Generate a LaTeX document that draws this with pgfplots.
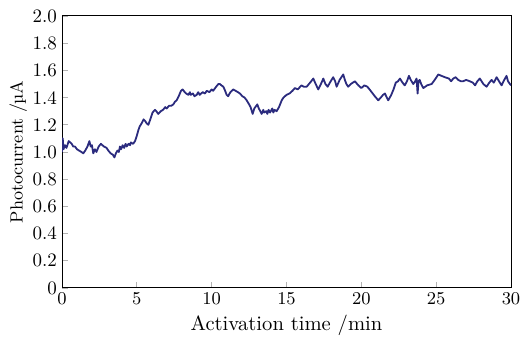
\documentclass[border=0pt]{standalone}
\usepackage{pgfplots}
\pgfplotsset{compat=1.18}
\definecolor{curve}{HTML}{2B2B7E}
\pgfplotstableread{
x y
0.00 1.00
0.05 1.10
0.10 1.02
0.20 1.05
0.30 1.03
0.45 1.08
0.55 1.07
0.65 1.06
0.75 1.04
0.87 1.04
1.00 1.02
1.15 1.01
1.30 1.00
1.42 0.99
1.55 1.01
1.70 1.04
1.83 1.08
1.92 1.04
2.00 1.05
2.09 0.99
2.20 1.02
2.30 1.00
2.45 1.04
2.60 1.06
2.70 1.05
2.80 1.04
2.98 1.03
3.10 1.01
3.25 0.99
3.40 0.98
3.50 0.96
3.60 0.99
3.70 1.01
3.80 1.00
3.87 1.04
3.95 1.02
4.05 1.05
4.15 1.03
4.25 1.06
4.32 1.04
4.45 1.06
4.55 1.05
4.60 1.07
4.75 1.06
4.88 1.08
5.00 1.12
5.10 1.16
5.20 1.19
5.32 1.21
5.45 1.24
5.54 1.23
5.66 1.21
5.77 1.20
5.90 1.24
6.05 1.29
6.21 1.31
6.30 1.30
6.43 1.28
6.60 1.30
6.75 1.31
6.90 1.33
7.00 1.32
7.15 1.34
7.30 1.34
7.44 1.35
7.55 1.37
7.66 1.38
7.80 1.41
7.95 1.45
8.06 1.46
8.20 1.44
8.30 1.43
8.44 1.42
8.55 1.44
8.60 1.42
8.75 1.43
8.85 1.41
9.00 1.42
9.10 1.44
9.20 1.42
9.40 1.44
9.55 1.43
9.67 1.45
9.85 1.44
10.00 1.46
10.10 1.45
10.30 1.48
10.45 1.50
10.55 1.50
10.65 1.49
10.78 1.48
10.90 1.45
11.00 1.42
11.10 1.41
11.25 1.44
11.44 1.46
11.60 1.45
11.75 1.44
11.89 1.43
12.05 1.41
12.20 1.40
12.34 1.38
12.50 1.35
12.60 1.33
12.74 1.28
12.85 1.32
13.05 1.35
13.15 1.32
13.25 1.30
13.34 1.28
13.45 1.31
13.50 1.29
13.65 1.30
13.72 1.28
13.80 1.31
13.90 1.29
14.05 1.32
14.12 1.29
14.20 1.31
14.34 1.30
14.50 1.33
14.68 1.38
14.80 1.40
15.00 1.42
15.20 1.43
15.40 1.45
15.56 1.47
15.75 1.46
16.00 1.49
16.15 1.48
16.35 1.48
16.50 1.50
16.65 1.52
16.79 1.54
16.95 1.50
17.12 1.46
17.30 1.50
17.46 1.54
17.60 1.50
17.75 1.48
17.90 1.51
18.12 1.55
18.25 1.52
18.35 1.48
18.55 1.53
18.79 1.57
18.90 1.53
19.00 1.50
19.12 1.48
19.30 1.50
19.57 1.52
19.80 1.49
20.00 1.47
20.20 1.49
20.40 1.48
20.55 1.46
20.69 1.44
20.90 1.41
21.13 1.38
21.30 1.40
21.45 1.42
21.58 1.43
21.70 1.40
21.80 1.38
22.00 1.42
22.15 1.46
22.30 1.51
22.45 1.52
22.58 1.54
22.75 1.51
22.90 1.49
23.05 1.52
23.18 1.56
23.30 1.53
23.47 1.50
23.60 1.52
23.69 1.54
23.76 1.43
23.82 1.52
23.90 1.53
24.00 1.50
24.14 1.47
24.40 1.49
24.70 1.50
24.90 1.53
25.14 1.57
25.35 1.56
25.58 1.55
25.85 1.54
26.00 1.52
26.14 1.54
26.30 1.55
26.47 1.53
26.65 1.52
26.80 1.52
27.00 1.53
27.25 1.52
27.45 1.51
27.60 1.49
27.75 1.52
27.92 1.54
28.15 1.50
28.37 1.48
28.55 1.51
28.70 1.53
28.85 1.51
29.04 1.55
29.20 1.52
29.37 1.49
29.55 1.53
29.70 1.56
29.80 1.52
29.93 1.50
30.00 1.49
}\datatable
\begin{document}
\begin{tikzpicture}
\begin{axis}[
  at={(0,0)}, anchor=south west,
  scale only axis,
  width=224.5pt, height=136pt,
  xmin=0, xmax=30, ymin=0, ymax=2,
  xtick={0,5,...,30},
  ytick={0,0.2,...,2.0},
  yticklabels={0,0.2,0.4,0.6,0.8,1.0,1.2,1.4,1.6,1.8,2.0},
  xtick pos=left, ytick pos=left,
  tick align=inside,
  major tick length=3pt,
  tick style={gray!60, line width=0.4pt},
  axis line style={black, line width=0.5pt},
  every tick label/.append style={font=\fontsize{9.5}{10}\selectfont},
  xticklabel style={yshift=1pt},
  yticklabel style={xshift=1pt},
  xlabel={Activation time /min},
  ylabel={Photocurrent /\kern-0.5pt µA},
  xlabel style={font=\fontsize{10.3}{11}\selectfont, yshift=1.5pt},
  ylabel style={font=\fontsize{8.8}{10}\selectfont, yshift=-4pt},
]
\addplot[curve, line width=0.9pt, line join=round] table[x=x,y=y] {\datatable};
\end{axis}
\pgfresetboundingbox
\path (-31pt,-26pt) rectangle (230.5pt,144pt);
\end{tikzpicture}
\end{document}
